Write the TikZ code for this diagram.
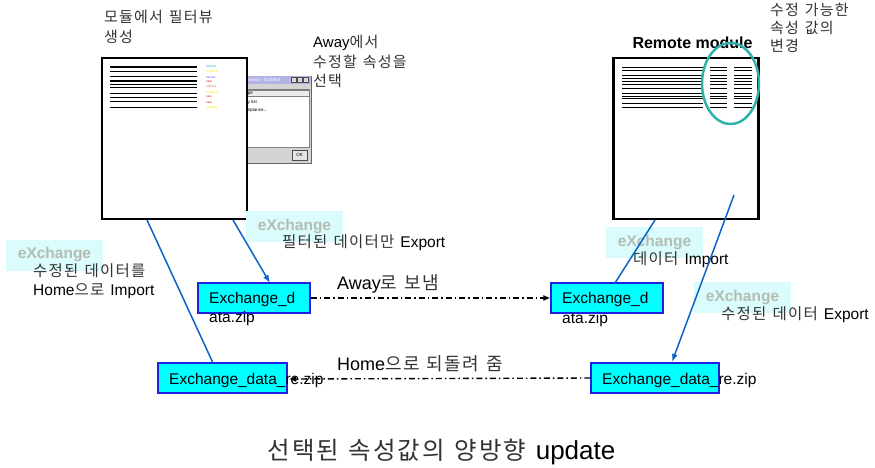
\documentclass[tikz,border=0pt]{standalone}
\usepackage{fontspec}
\setmainfont{Liberation Sans}
\newfontfamily\kr[WordSpace=1.3,LetterSpace=8]{Noto Sans CJK KR}
\usetikzlibrary{arrows.meta,shapes.geometric}
\definecolor{krgray}{HTML}{333333}
\definecolor{xcyan}{HTML}{00FFFF}
\definecolor{xborder}{HTML}{2020E0}
\definecolor{exfill}{HTML}{DAFCFC}
\definecolor{exfont}{HTML}{B4BCB4}
\definecolor{bline}{HTML}{0A64C8}
\definecolor{teal2}{HTML}{2DB3AB}
\newcommand{\kor}[1]{{\kr\color{krgray}#1}}
\begin{document}
\begin{tikzpicture}[x=1pt,y=-1pt,
  toplbl/.style={inner sep=0pt,anchor=west,font=\fontsize{15}{18}\selectfont},
  lbl/.style={inner sep=0pt,anchor=west,font=\fontsize{15.5}{18}\selectfont},
  biglbl/.style={inner sep=0pt,anchor=west,font=\fontsize{18}{21}\selectfont},
  boxtxt/.style={inner sep=0pt,anchor=west,font=\fontsize{15.5}{18}\selectfont},
  xbox/.style={draw=xborder,fill=xcyan,line width=1.2pt,inner sep=0pt},
  exbox/.style={fill=exfill,inner sep=0pt,minimum width=97pt,minimum height=31pt,
     font=\bfseries\fontsize{15.5}{18}\selectfont,text=exfont},
  docbox/.style={draw=black,fill=white,line width=2.2pt,inner sep=0pt,minimum width=145pt,minimum height=161pt},
  bluel/.style={draw=bline,line width=1.5pt},
  bluearr/.style={bluel,-{Latex[length=8pt,width=6pt]}},
  dd/.style={draw=black,line width=1.4pt,dash pattern=on 6pt off 3pt on 1.5pt off 3pt},
  ddarr/.style={dd,-{Latex[length=7pt,width=6pt]}},
  tiny/.style={inner sep=0pt,anchor=west,font=\fontsize{3}{3}\selectfont},
  dlgtxt/.style={inner sep=0pt,anchor=west,font=\fontsize{4.5}{5}\selectfont},
  winbtn/.style={draw=black!70,fill=black!15,minimum width=5pt,minimum height=5pt,inner sep=0pt},
]
\useasboundingbox (0,0) rectangle (875,468);

% ---------- dialog behind left doc ----------
\node[draw=black!60,fill=black!17,line width=0.6pt,minimum width=111pt,minimum height=87pt,inner sep=0pt] (dlg) at (255.5,119.5) {};
\node[fill=black!30!blue!30!white,minimum width=110pt,minimum height=8pt,inner sep=0pt] (dlgt) at (255.5,80) {};
\node[dlgtxt,text=white] (dlgtt) at (232,80) {Requirements - DOORS};
\node[winbtn] (bmin) at (294,80) {};
\node[winbtn] (bmax) at (300,80) {};
\node[winbtn] (bcls) at (306,80) {};
\node[draw=black!50,fill=white,minimum width=108pt,minimum height=58pt,inner sep=0pt] (dlgl) at (255,118.5) {};
\node[draw=black!50,fill=black!8,minimum width=108pt,minimum height=6pt,inner sep=0pt] (dlgh) at (255,93) {};
\node[dlgtxt] (h1) at (236,93.5) {AttrType};
\node[dlgtxt] (i1) at (236,102) {Priority list};
\node[dlgtxt] (i2) at (240,110) {Acceptance...};
\node[dlgtxt] (i3) at (240,117) {Text};
\node[draw=black!70,fill=black!10,minimum width=15pt,minimum height=10pt,inner sep=0pt,font=\fontsize{4.5}{5}\selectfont] (ok) at (299.5,155) {OK};

% ---------- left document ----------
\node[docbox] (ld) at (174.5,138.5) {};
\foreach \yy/\ww in {67/1.6,71.5/1,77/1,81/1.6,84.5/1.2,87.5/1,94/1,97.5/1.6,102/1,107.5/1}
  \draw[line width=\ww pt] (110,\yy) -- (197,\yy);
\node[tiny,text=teal2] (c1) at (206,66.5) {deleted};
\node[tiny,text=yellow!90!orange] (c2) at (206,71.5) {modified};
\node[tiny,text=blue!70] (c3) at (206,77.5) {moved};
\node[tiny,text=red!80!black] (c4) at (206,82) {new};
\node[tiny,text=brown] (c5) at (206,86) {add.link};
\node[tiny,text=yellow!90!orange] (c6) at (206,92.5) {modified};
\node[tiny,text=red!80!black] (c7) at (206,97) {new};
\node[tiny,text=red!80!black] (c8) at (206,103) {new};
\node[tiny,text=yellow!90!orange] (c9) at (206,107.5) {modified};

% ---------- right document ----------
\node[docbox] (rd) at (686,138.5) {};
\foreach \yy/\ww in {67.3/1,70.7/1,75.7/1,78.3/1,81.7/1.6,85/1,88.3/1,93.3/1,96.7/1.6,99/1,103.3/1,107.7/1}{
  \draw[line width=\ww pt] (622,\yy) -- (703,\yy);
  \draw[line width=\ww pt] (710,\yy) -- (727,\yy);
  \draw[line width=\ww pt] (734,\yy) -- (752,\yy);}
\node[inner sep=0pt,font=\bfseries\fontsize{16}{18}\selectfont] (rmt) at (692.5,43) {Remote module};
\node[draw=teal2,line width=2.5pt,ellipse,minimum width=57pt,minimum height=81pt,inner sep=0pt] (ell) at (730.5,83.5) {};

% ---------- top texts ----------
\node[toplbl] (t1) at (104,17) {\kor{모듈에서 필터뷰}};
\node[toplbl] (t2) at (104,37) {\kor{생성}};
\node[toplbl] (t3) at (313,43) {Away\kor{에서}};
\node[toplbl] (t4) at (313,62) {\kor{수정할 속성을}};
\node[toplbl] (t5) at (313,81) {\kor{선택}};
\node[toplbl] (t6) at (770,10) {\kor{수정 가능한}};
\node[toplbl] (t7) at (770,28) {\kor{속성 값의}};
\node[toplbl] (t8) at (770,46) {\kor{변경}};

% ---------- eXchange labels ----------
\node[exbox] (ex1) at (294.5,226.5) {eXchange};
\node[exbox] (ex2) at (54.5,255) {eXchange};
\node[exbox] (ex3) at (654.5,242.5) {eXchange};
\node[exbox] (ex4) at (742.5,297.5) {eXchange};

\node[lbl] (m1) at (282,243) {\kor{필터된 데이터만 }Export};
\node[lbl] (m2) at (33,271) {\kor{수정된 데이터를}};
\node[lbl] (m3) at (33,291) {Home\kor{으로 }Import};
\node[lbl] (m4) at (633,260) {\kor{데이터 }Import};
\node[lbl] (m5) at (721,315) {\kor{수정된 데이터 }Export};

% ---------- exchange boxes ----------
\node[xbox,minimum width=112pt,minimum height=30pt] (b1) at (254,298) {};
\node[xbox,minimum width=129pt,minimum height=30pt] (b2) at (222.5,378) {};
\node[xbox,minimum width=112pt,minimum height=30pt] (b3) at (607,298) {};
\node[xbox,minimum width=128pt,minimum height=30pt] (b4) at (655,378) {};

\node[boxtxt] (b1t) at (209,299) {Exchange\_d};
\node[boxtxt] (b1u) at (209,318.5) {ata.zip};
\node[boxtxt] (b3t) at (562,299.5) {Exchange\_d};
\node[boxtxt] (b3u) at (562,319) {ata.zip};
\node[boxtxt] (b2t) at (169,380) {Exchange\_data\_re.zip};
\node[boxtxt] (b4t) at (602,380) {Exchange\_data\_re.zip};

% ---------- middle labels ----------
\node[biglbl] (a1) at (337,284) {Away\kor{로 보냄}};
\node[biglbl] (a2) at (337,364) {Home\kor{으로 되돌려 줌}};

% ---------- connectors ----------
\coordinate (p1) at (233,220);
\coordinate (p1e) at (270,283);
\coordinate (p2) at (147,220);
\coordinate (p2e) at (213,363);
\coordinate (p3) at (655,220);
\coordinate (p3e) at (615,283);
\coordinate (p4) at (734,195);
\coordinate (p4e) at (672,362);
\coordinate (q2e) at (289,379);
\draw[bluearr] (p1) -- (p1e);
\draw[bluel] (p2) -- (p2e);
\draw[bluel] (p3) -- (p3e);
\draw[bluearr] (p4) -- (p4e);
\draw[ddarr] (b1.east) -- (b3.west);
\draw[ddarr] (b4.west) -- (q2e);

% ---------- bottom title ----------
\node[inner sep=0pt,font=\fontsize{26}{29}\selectfont] (title) at (441.5,452) {{\fontsize{24.5}{28}\selectfont\kor{선택된 속성값의 양방향 }}update};
\end{tikzpicture}
\end{document}
